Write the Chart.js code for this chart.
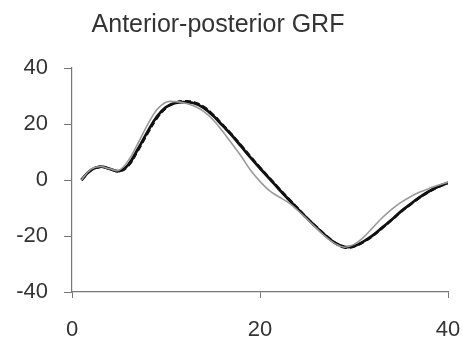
<!DOCTYPE html>
<html>
<head>
<meta charset="utf-8">
<script src="https://cdn.jsdelivr.net/npm/chart.js@4/dist/chart.umd.min.js"></script>
<style>
  html, body { margin: 0; padding: 0; background: #fff; }
  #wrap { width: 462px; height: 342px; }
</style>
</head>
<body>
<div id="wrap"><canvas id="grfChart"></canvas></div>
<script>
// --- DATA ---
const chartTitle = 'Anterior-posterior GRF';

const frames = [1, 2, 3, 4, 5, 6, 7, 8, 9, 10, 11, 12, 13, 14, 15, 16, 17, 18, 19, 20,
                21, 22, 23, 24, 25, 26, 27, 28, 29, 30, 31, 32, 33, 34, 35, 36, 37, 38, 39, 40];

const solidSeries = [0, 3.5, 4.8, 4, 3.2, 5.5, 11, 17, 22.5, 26, 27.5, 27.8, 27.4, 25.8, 23, 19.5, 16, 12, 8, 4.2,
                     0.5, -3.2, -6.8, -10.3, -13.7, -16.9, -19.9, -22.5, -23.9, -23.6, -22, -19.8, -17, -14.2, -11.2, -8.6, -6.1, -4, -2.3, -1];

const dashedSeries = [0, 3.4, 4.7, 4, 3.1, 5.2, 10.5, 16.5, 22, 25.8, 27.6, 28.1, 27.7, 26.1, 23.3, 19.8, 16.2, 12.3, 8.3, 4.4,
                      0.7, -3, -6.6, -10.1, -13.6, -16.8, -19.8, -22.5, -24.1, -23.7, -22.1, -19.9, -17.1, -14.3, -11.3, -8.7, -6.2, -4.1, -2.4, -1];

const graySeries = [0, 3.8, 4.8, 4, 3.5, 7, 13, 19.5, 25, 27.8, 28, 27.5, 26.4, 24.5, 21.5, 17.5, 13, 8.5, 3.5, -0.5,
                    -3.8, -6, -8, -10.8, -14, -17.2, -20.3, -22.8, -24, -23, -20.5, -17, -13.5, -10.5, -8, -6, -4.3, -3, -1.8, -0.8];

const xTicks = [0, 20, 40];
const yTicks = [-40, -20, 0, 20, 40];

const toPoints = (ys) => ys.map((y, i) => ({ x: frames[i], y: y }));

const FONT = '"Liberation Sans", Arial, sans-serif';

// title drawn a little left of centre, like the original figure
const titlePlugin = {
    id: 'figTitle',
    afterDraw(chart) {
        const c = chart.ctx;
        c.save();
        c.fillStyle = '#333';
        c.font = `25px ${FONT}`;
        c.textAlign = 'center';
        c.textBaseline = 'alphabetic';
        c.fillText(chartTitle, 218, 32);
        c.restore();
    }
};

// --- CHART ---
const ctx = document.getElementById('grfChart').getContext('2d');
new Chart(ctx, {
    type: 'line',
    data: {
        datasets: [
            {
                label: 'Gray',
                data: toPoints(graySeries),
                borderColor: '#9a9a9a',
                borderWidth: 1.6,
                pointRadius: 0,
                tension: 0.4,
                fill: false,
            },
            {
                label: 'Dashed',
                data: toPoints(dashedSeries),
                borderColor: '#111',
                borderWidth: 2.6,
                borderDash: [6, 3],
                pointRadius: 0,
                tension: 0.4,
                fill: false,
            },
            {
                label: 'Solid',
                data: toPoints(solidSeries),
                borderColor: '#111',
                borderWidth: 2.8,
                pointRadius: 0,
                tension: 0.4,
                fill: false,
            }
        ]
    },
    plugins: [titlePlugin],
    options: {
        responsive: true,
        maintainAspectRatio: false,
        animation: false,
        layout: { padding: { left: 0, right: 14, top: 68, bottom: 0 } },
        plugins: {
            legend: { display: false },
            tooltip: { enabled: false },
            title: { display: false }
        },
        scales: {
            x: {
                type: 'linear',
                min: 0,
                max: 40,
                afterBuildTicks: (scale) => { scale.ticks = xTicks.map(v => ({ value: v })); },
                afterFit: (scale) => {
                    scale.height = 50;
                    scale.paddingLeft = 0;
                    scale.paddingRight = 0;
                },
                grid: { drawOnChartArea: false, drawTicks: true, tickLength: 6, color: '#777' },
                border: { display: true, color: '#777', width: 1.2 },
                ticks: {
                    color: '#333',
                    padding: 19,
                    maxRotation: 0,
                    font: { family: FONT, size: 22 }
                }
            },
            y: {
                min: -40,
                max: 40,
                afterBuildTicks: (scale) => { scale.ticks = yTicks.map(v => ({ value: v })); },
                afterFit: (scale) => {
                    scale.width = 72;
                    scale.paddingTop = 0;
                    scale.paddingBottom = 0;
                },
                grid: { drawOnChartArea: false, drawTicks: true, tickLength: 8, color: '#777' },
                border: { display: true, color: '#777', width: 1.2 },
                ticks: {
                    color: '#333',
                    padding: 16,
                    font: { family: FONT, size: 22 }
                }
            }
        }
    }
});
</script>
</body>
</html>
